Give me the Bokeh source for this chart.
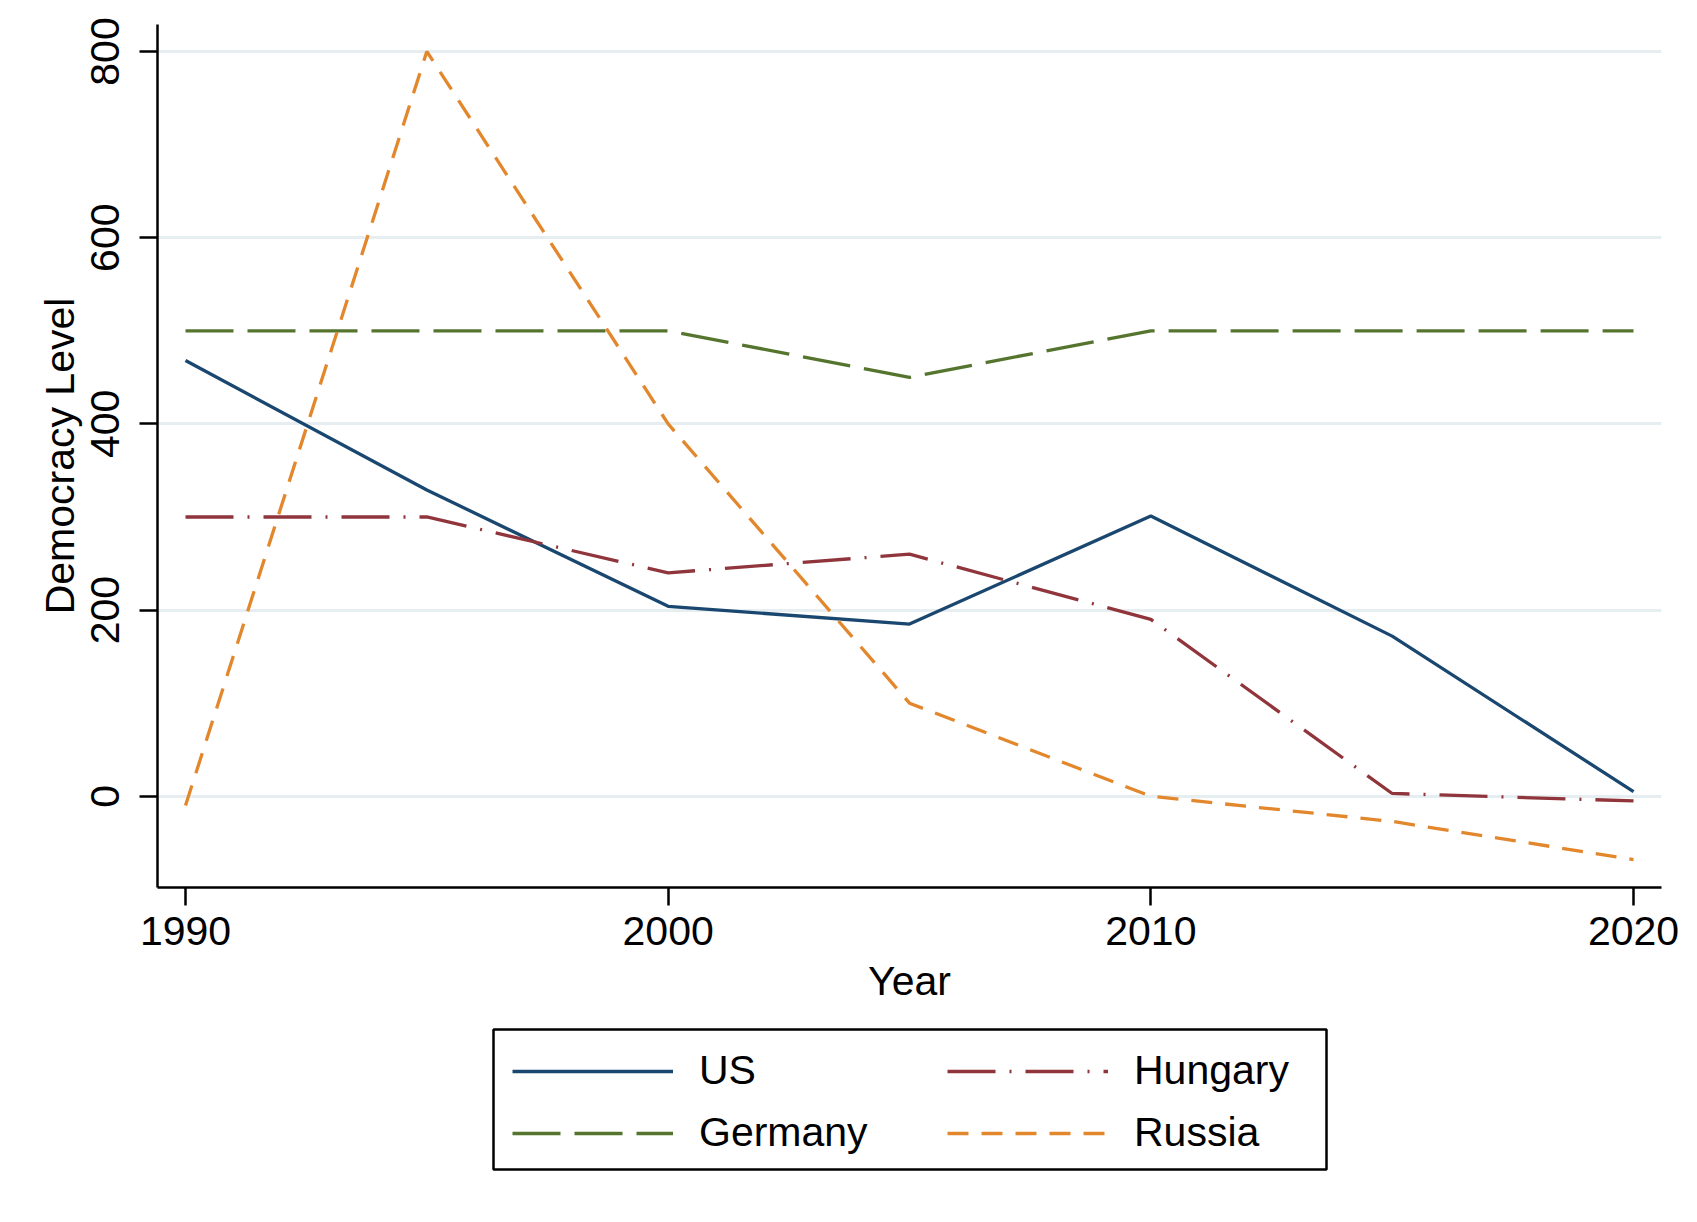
from bokeh.plotting import figure
from bokeh.models import Legend, LegendItem, Range1d, FixedTicker, Spacer
from bokeh.layouts import column, row
from bokeh.embed import file_html
from bokeh.resources import INLINE

years = [1990, 1995, 2000, 2005, 2010, 2015, 2020]
us = [468, 329, 204, 185, 301, 172, 5]
germany = [500, 500, 500, 450, 500, 500, 500]
hungary = [300, 300, 240, 260, 190, 3, -5]
russia = [-10, 800, 400, 100, 0, -27, -68]

series_names = ["US", "Germany", "Hungary", "Russia"]
legend_col1 = ["US", "Germany"]
legend_col2 = ["Hungary", "Russia"]
x_ticks = [1990, 2000, 2010, 2020]
y_ticks = [0, 200, 400, 600, 800]

FONT = "Liberation Sans"
styles = {
    "US": dict(line_color="#1a476f", line_width=3.3),
    "Germany": dict(line_color="#55752f", line_width=3.3, line_dash="48 14"),
    "Hungary": dict(line_color="#90353b", line_width=3.3, line_dash="48 14 2 14"),
    "Russia": dict(line_color="#e3872d", line_width=3.3, line_dash="21 13"),
}
values = {"US": us, "Germany": germany, "Hungary": hungary, "Russia": russia}

W = 1690
p = figure(width=W, height=1027, output_backend="svg", toolbar_location=None,
           x_range=Range1d(1989.42, 2020.58), y_range=Range1d(-98, 829),
           min_border_left=157, min_border_top=24, min_border_right=29,
           min_border_bottom=140)
p.outline_line_color = None
p.background_fill_color = "white"
p.border_fill_color = "white"

for name in series_names:
    p.line(years, values[name], **styles[name])

for ax in (p.xaxis[0], p.yaxis[0]):
    ax.axis_line_width = 2.5
    ax.axis_line_color = "black"
    ax.major_tick_line_width = 2.5
    ax.major_tick_line_color = "black"
    ax.major_tick_out = 18
    ax.major_tick_in = 0
    ax.minor_tick_line_color = None
    ax.major_label_text_font = FONT
    ax.major_label_text_font_size = "41px"
    ax.major_label_text_color = "black"
    ax.axis_label_text_font = FONT
    ax.axis_label_text_font_size = "41px"
    ax.axis_label_text_font_style = "normal"
    ax.axis_label_text_color = "black"

p.xaxis.ticker = FixedTicker(ticks=x_ticks)
p.yaxis.ticker = FixedTicker(ticks=y_ticks)
p.xaxis.axis_label = "Year"
p.yaxis.axis_label = "Democracy Level"
p.xaxis.major_label_standoff = 11
p.xaxis.axis_label_standoff = 10
p.yaxis.major_label_standoff = 20
p.yaxis.axis_label_standoff = 6
p.yaxis.major_label_orientation = "vertical"

p.xgrid.grid_line_color = None
p.ygrid.grid_line_color = "#e6eef1"
p.ygrid.grid_line_width = 3

# legend box below the chart (its frame outline is the legend border)
lg = figure(width=837, height=144, output_backend="svg", toolbar_location=None,
            x_range=Range1d(0, 1), y_range=Range1d(0, 1),
            x_axis_location=None, y_axis_location=None,
            min_border_left=2, min_border_right=2, min_border_top=2, min_border_bottom=2)
lg.outline_line_color = "black"
lg.outline_line_width = 2.5
lg.xgrid.grid_line_color = None
lg.ygrid.grid_line_color = None
lg.border_fill_color = "white"
lg.background_fill_color = "white"

renderers = {}
for name in series_names:
    renderers[name] = lg.line(x=[years[0]], y=[values[name][0]], **styles[name])

def make_legend(names, x):
    return Legend(items=[LegendItem(label=n, renderers=[renderers[n]]) for n in names],
                  orientation="vertical", location=(x, 13),
                  glyph_width=161, glyph_height=40, label_standoff=26, label_width=20,
                  label_text_font=FONT, label_text_font_size="41px",
                  label_text_color="black", border_line_color=None,
                  background_fill_alpha=0, padding=0, spacing=15, margin=0)

lg.add_layout(make_legend(legend_col1, 19), "center")
lg.add_layout(make_legend(legend_col2, 454), "center")

layout = column(p, row(Spacer(width=491, height=144), lg), spacing=0)
open("out.html", "w").write(file_html(layout, INLINE))
